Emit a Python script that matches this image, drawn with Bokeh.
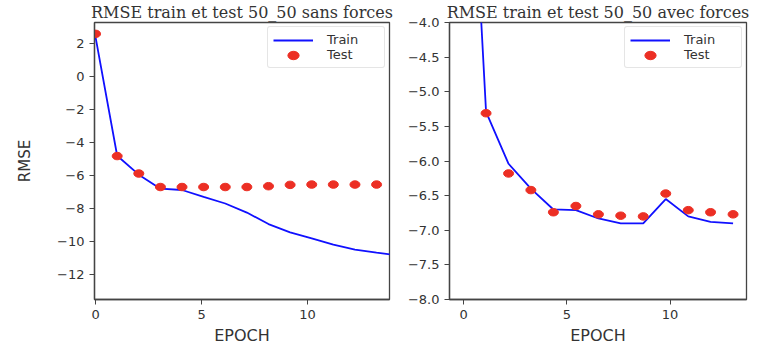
from bokeh.plotting import figure
from bokeh.layouts import row
from bokeh.models import FixedTicker, Range1d
from bokeh.embed import file_html
from bokeh.resources import INLINE

# ---- data ----
left_title = "RMSE train et test 50_50 sans forces"
right_title = "RMSE train et test 50_50 avec forces"

left_test_epoch = [0, 1.02, 2.04, 3.06, 4.08, 5.1, 6.12, 7.14, 8.16, 9.18, 10.2, 11.22, 12.24, 13.26]
left_test_rmse = [2.6, -4.82, -5.88, -6.7, -6.7, -6.7, -6.7, -6.7, -6.65, -6.57, -6.55, -6.55, -6.55, -6.55]
left_train_epoch = [0, 1.02, 2.04, 3.06, 4.08, 5.1, 6.12, 7.14, 8.16, 9.18, 10.2, 11.22, 12.24, 13.26, 14.28]
left_train_rmse = [2.4, -4.8, -5.95, -6.8, -6.88, -7.3, -7.7, -8.25, -8.95, -9.45, -9.82, -10.2, -10.5, -10.68, -10.85]

right_epoch = [0, 1.09, 2.18, 3.26, 4.35, 5.44, 6.53, 7.61, 8.70, 9.79, 10.88, 11.96, 13.05]
right_train_rmse = [0.8, -5.29, -6.04, -6.40, -6.70, -6.71, -6.83, -6.90, -6.90, -6.55, -6.80, -6.88, -6.90]
right_test_rmse = [1.0, -5.31, -6.18, -6.42, -6.74, -6.65, -6.77, -6.79, -6.80, -6.47, -6.71, -6.74, -6.77]

x_ticks = [0, 5, 10]
left_y_ticks = [-12, -10, -8, -6, -4, -2, 0, 2]
right_y_ticks = [-8.0, -7.5, -7.0, -6.5, -6.0, -5.5, -5.0, -4.5, -4.0]


def fmt(v, dec):
    s = f"{abs(v):.{dec}f}"
    return ("\u2212" + s) if v < 0 else s


TRAIN_COLOR = "#1010ff"
TEST_COLOR = "#ec2f24"
AX = "#444444"
LAB = "#333333"


def make(title, xr, yr, width, mbl, mbr, yticks, ydec, ylabel, **kw):
    p = figure(width=width, height=347, x_range=Range1d(*xr), y_range=Range1d(*yr),
               output_backend="svg", toolbar_location=None, title=title,
               min_border_left=mbl, min_border_right=mbr, min_border_top=20,
               min_border_bottom=41, **kw)
    p.title.text_font = "DejaVu Serif"
    p.title.text_font_size = "16px"
    p.title.text_font_style = "normal"
    p.title.text_color = "#333333"
    p.title.align = "center"
    p.title.standoff = 1
    p.xgrid.visible = False
    p.ygrid.visible = False
    p.outline_line_color = AX
    p.outline_line_width = 1.3
    p.outline_line_alpha = 1
    p.xaxis.ticker = FixedTicker(ticks=x_ticks)
    p.yaxis.ticker = FixedTicker(ticks=yticks)
    p.yaxis.major_label_overrides = {v: fmt(v, ydec) for v in yticks}
    for ax in (p.xaxis[0], p.yaxis[0]):
        ax.axis_line_color = AX
        ax.axis_line_width = 1.3
        ax.major_tick_line_color = AX
        ax.major_tick_out = 5
        ax.major_tick_in = 0
        ax.minor_tick_line_color = None
        ax.major_label_text_font = "DejaVu Sans"
        ax.major_label_text_font_size = "13px"
        ax.major_label_text_color = LAB
        ax.major_label_standoff = 5
        ax.axis_label_text_font = "DejaVu Sans"
        ax.axis_label_text_font_style = "normal"
        ax.axis_label_text_color = LAB
    p.xaxis.axis_label = "EPOCH"
    p.xaxis.axis_label_text_font_size = "16px"
    p.xaxis.axis_label_standoff = 4
    if ylabel:
        p.yaxis.axis_label = ylabel
        p.yaxis.axis_label_text_font_size = "15px"
        p.yaxis.axis_label_standoff = 20
    return p


def finish_legend(p):
    lg = p.legend[0]
    lg.location = "top_right"
    lg.margin = 4
    lg.padding = 5
    lg.spacing = 0
    lg.glyph_width = 40
    lg.glyph_height = 14
    lg.label_height = 14
    lg.label_width = 52
    lg.label_standoff = 14
    lg.label_text_font = "DejaVu Sans"
    lg.label_text_font_size = "13px"
    lg.label_text_color = LAB
    lg.border_line_color = "#cccccc"
    lg.border_line_width = 1
    lg.background_fill_alpha = 0.9
    try:
        lg.border_radius = 3
    except Exception:
        pass


p1 = make(left_title, (-0.05, 13.87), (-13.53, 3.29), 420, 94, 31,
          left_y_ticks, 0, "RMSE")
p1.line(left_train_epoch, left_train_rmse, line_color=TRAIN_COLOR, line_width=1.8,
        legend_label="Train")
p1.ellipse(left_test_epoch, left_test_rmse, width=10, height=7.5,
           width_units="screen", height_units="screen",
           fill_color=TEST_COLOR, line_color=TEST_COLOR, legend_label="Test")
finish_legend(p1)

p2 = make(right_title, (-0.68, 13.7), (-8.0, -4.0), 373, 55, 21,
          right_y_ticks, 1, None, margin=(0, 0, 0, -26))
p2.border_fill_alpha = 0
p2.line(right_epoch, right_train_rmse, line_color=TRAIN_COLOR, line_width=1.8,
        legend_label="Train")
p2.ellipse(right_epoch, right_test_rmse, width=10, height=7.5,
           width_units="screen", height_units="screen",
           fill_color=TEST_COLOR, line_color=TEST_COLOR, legend_label="Test")
finish_legend(p2)

layout = row(p1, p2, spacing=0)
open("out.html", "w").write(file_html(layout, INLINE))
